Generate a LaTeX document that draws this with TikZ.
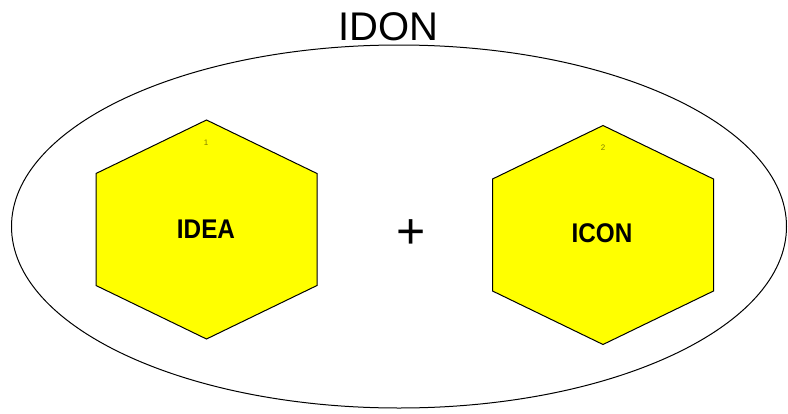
\documentclass[tikz,border=0pt]{standalone}
\usepackage{fontspec}
\setmainfont{Liberation Sans}
\definecolor{hexyellow}{RGB}{255,255,0}
\begin{document}
\begin{tikzpicture}[x=1pt,y=-1pt,
  hexfill/.style={fill=hexyellow, draw=black, line width=1pt, line join=miter},
  hexlabel/.style={font=\fontsize{27}{27}\selectfont\bfseries, inner sep=0pt},
  hexnum/.style={font=\fontsize{8}{8}\selectfont, text=black!50!hexyellow, inner sep=0pt},
  hexa/.pic={
    \filldraw[hexfill] (0,-109.5) -- (110.5,-56) -- (110.5,56) -- (0,109.5)
      -- (-110.5,56) -- (-110.5,-56) -- cycle;
  }]
\useasboundingbox (0,0) rectangle (788,413);
% outer grouping ellipse
\draw[line width=1pt] (399,226.5) ellipse [x radius=387.5, y radius=181.5];
\node[inner sep=0pt, font=\fontsize{40}{40}\selectfont] (title) at (388,27) {IDON};
% left hexagon
\pic at (206.5,229.5) {hexa};
\node[hexnum] (n1) at (206,143) {1};
\node[hexlabel] (idea) at (206,229) {\scalebox{0.9}[1]{IDEA}};
% right hexagon
\pic at (603,235) {hexa};
\node[hexnum] (n2) at (603,148) {2};
\node[hexlabel] (icon) at (602,233) {\scalebox{0.9}[1]{ICON}};
% operator between the two
\node[inner sep=0pt, font=\fontsize{50}{50}\selectfont] (plus) at (411,234) {+};
\end{tikzpicture}
\end{document}
